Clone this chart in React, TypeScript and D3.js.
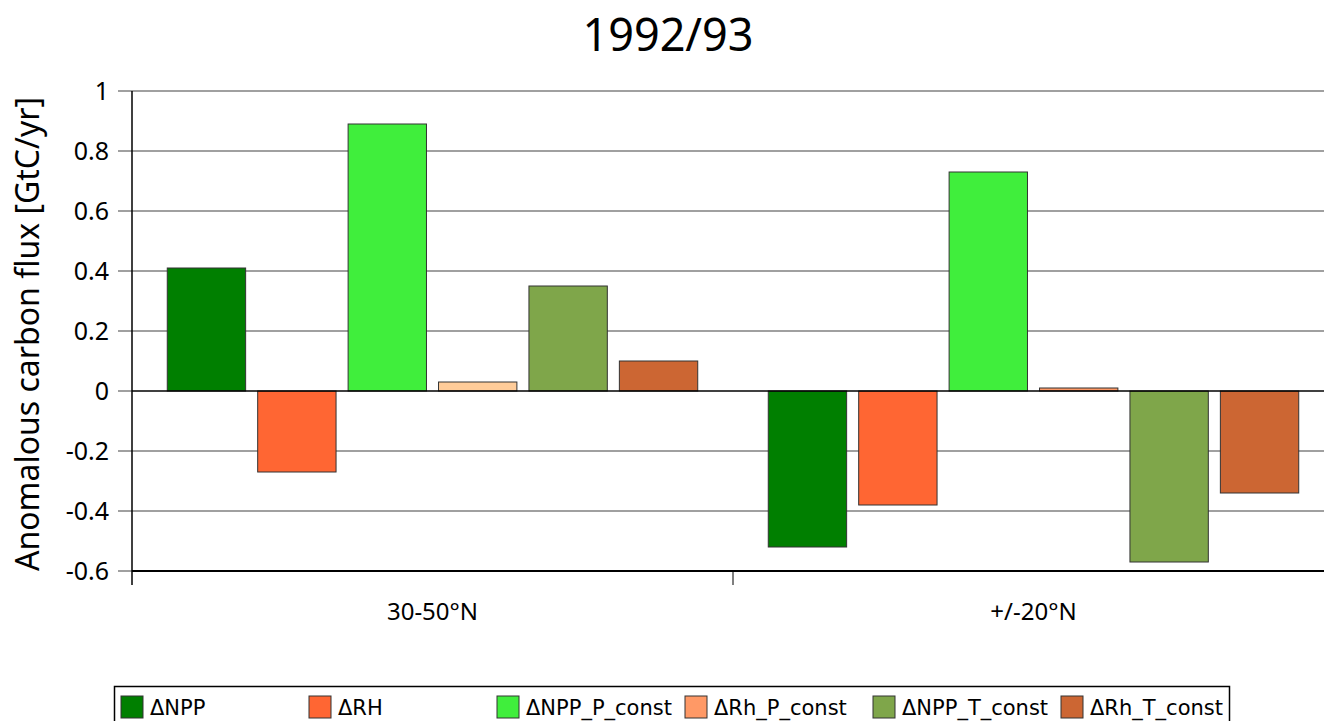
import React from "react";
import * as d3 from "d3";

// regions on the x axis
const regions = ["30-50°N", "+/-20°N"];

// series names, as in the legend
const series = ["ΔNPP", "ΔRH", "ΔNPP_P_const", "ΔRh_P_const", "ΔNPP_T_const", "ΔRh_T_const"];

// anomalous flux per series, one value per region [30-50°N, +/-20°N]
const dNPP = [0.41, -0.52];
const dRH = [-0.27, -0.38];
const dNPP_P_const = [0.89, 0.73];
const dRh_P_const = [0.03, 0.01];
const dNPP_T_const = [0.35, -0.57];
const dRh_T_const = [0.1, -0.34];

const yTicks = [-0.6, -0.4, -0.2, 0, 0.2, 0.4, 0.6, 0.8, 1];

const colors = ["#007f00", "#ff6633", "#40ee3c", "#ff9966", "#7fa64a", "#cc6633"];
// the ΔRh_P_const bar of the first region is drawn lighter in the original
const pointColor: Record<string, string> = { "30-50°N|ΔRh_P_const": "#ffcc99" };

const values = [dNPP, dRH, dNPP_P_const, dRh_P_const, dNPP_T_const, dRh_T_const];

const initial = {
  width: 1324,
  height: 721,
  left: 132,
  right: 1334,
  top: 91,
  bottom: 571,
  font: "'Noto Sans', 'Open Sans', sans-serif",
  legendFont: "'DejaVu Sans', sans-serif",
};

const App = () => {
  const x0 = d3.scaleBand<string>().domain(regions).range([initial.left, initial.right]);
  const x1 = d3
    .scaleBand<string>()
    .domain(series)
    .range([0, x0.bandwidth()])
    .paddingInner(0.1333)
    .paddingOuter(0.39);
  const y = d3.scaleLinear().domain([-0.6, 1]).range([initial.bottom, initial.top]);

  const bars = regions.flatMap((r, ri) =>
    series.map((s, si) => ({ region: r, name: s, value: values[si][ri], color: pointColor[r + "|" + s] || colors[si] }))
  );

  const legendX = d3.scaleBand<string>().domain(series).range([121, 121 + 188 * series.length]);

  return (
    <svg
      width={initial.width}
      height={initial.height}
      style={{ position: "absolute", left: 0, top: 0, background: "#fff" }}
    >
      <text x={668} y={51} textAnchor="middle" fontFamily={initial.font} fontSize={45} fill="#000">
        1992/93
      </text>

      {/* grid + y ticks */}
      <g>
        {yTicks.map((t) => (
          <g key={t}>
            <line
              x1={initial.left - 14}
              x2={t === 0 || t === -0.6 ? initial.left : initial.right}
              y1={y(t)}
              y2={y(t)}
              stroke="#808080"
              strokeWidth={1.5}
            />
            <text
              x={initial.left - 23}
              y={y(t)}
              dy="0.36em"
              textAnchor="end"
              fontFamily={initial.font}
              fontSize={25}
              fill="#000"
            >
              {String(t)}
            </text>
          </g>
        ))}
      </g>

      <text
        transform={`translate(39, ${(initial.top + initial.bottom) / 2 + 3}) rotate(-90)`}
        textAnchor="middle"
        fontFamily={initial.font}
        fontSize={32}
        fill="#000"
      >
        Anomalous carbon flux [GtC/yr]
      </text>

      {/* bars */}
      <g>
        {bars.map((b, i) => (
          <rect
            key={i}
            x={(x0(b.region) as number) + (x1(b.name) as number)}
            y={y(Math.max(0, b.value))}
            width={x1.bandwidth()}
            height={Math.abs(y(b.value) - y(0))}
            fill={b.color}
            stroke="#333"
            strokeWidth={1}
          >
            <title>{b.name}: {b.value}</title>
          </rect>
        ))}
      </g>

      {/* zero line and axes */}
      <line x1={initial.left} x2={initial.right} y1={y(0)} y2={y(0)} stroke="#000" strokeWidth={1.5} />
      <line x1={initial.left} x2={initial.right} y1={initial.bottom} y2={initial.bottom} stroke="#000" strokeWidth={2} />
      <line x1={initial.left} x2={initial.left} y1={initial.top} y2={initial.bottom + 14} stroke="#000" strokeWidth={1.5} />
      {regions.map((r, i) => (
        <g key={r}>
          {i > 0 && (
            <line
              x1={x0(r) as number}
              x2={x0(r) as number}
              y1={initial.bottom}
              y2={initial.bottom + 14}
              stroke="#000"
              strokeWidth={1}
            />
          )}
          <text
            x={(x0(r) as number) + x0.bandwidth() / 2}
            y={620}
            textAnchor="middle"
            fontFamily={initial.font}
            fontSize={24}
            fill="#000"
          >
            {r}
          </text>
        </g>
      ))}

      {/* legend */}
      <rect x={114.5} y={686.5} width={1115} height={45} fill="#fff" stroke="#000" strokeWidth={1.5} />
      {series.map((s, i) => (
        <g key={s} transform={`translate(${legendX(s)}, 696)`}>
          <rect width={22} height={22} fill={colors[i]} stroke="#333" strokeWidth={1} />
          <text x={29} y={11} dy="0.36em" fontFamily={initial.legendFont} fontSize={21} fill="#000">
            {s}
          </text>
        </g>
      ))}
    </svg>
  );
};

export default App;
